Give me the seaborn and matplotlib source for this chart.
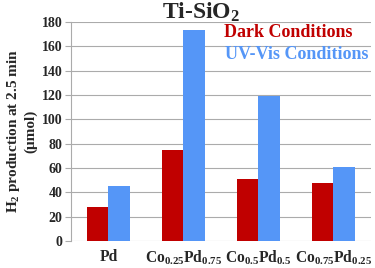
import pandas as pd
import seaborn as sns
import matplotlib.pyplot as plt

catalysts = ["Pd", "$Co_{0.25}Pd_{0.75}$", "$Co_{0.5}Pd_{0.5}$", "$Co_{0.75}Pd_{0.25}$"]
dark = [28, 75, 51, 47.5]
uvvis = [45.5, 173, 119, 61]
conditions = ["Dark Conditions", "UV-Vis Conditions"]
colors = ["#C00000", "#5596F7"]
yticks = list(range(0, 181, 20))

df = pd.DataFrame({
    "catalyst": catalysts * 2,
    "h2": dark + uvvis,
    "condition": [conditions[0]] * 4 + [conditions[1]] * 4,
})

sns.set_style("white")
plt.rcParams["font.family"] = ["Liberation Serif", "DejaVu Serif"]
plt.rcParams["font.weight"] = "bold"
plt.rcParams["mathtext.fontset"] = "custom"
plt.rcParams["mathtext.rm"] = "Liberation Serif:bold"
plt.rcParams["mathtext.it"] = "Liberation Serif:bold"
plt.rcParams["mathtext.bf"] = "Liberation Serif:bold"
plt.rcParams["mathtext.default"] = "rm"

fig = plt.figure(figsize=(3.75, 2.68), dpi=100)
ax = fig.add_axes([0.189, 0.101, 0.800, 0.817])
sns.barplot(data=df, x="catalyst", y="h2", hue="condition", palette=colors,
            width=0.58, gap=0, saturation=1, ax=ax, legend=False, zorder=3,
            edgecolor="none", linewidth=0)

ax.set_ylim(0, 180)
ax.set_yticks(yticks)
ax.yaxis.grid(True, color="#ABABAB", linewidth=0.8, zorder=0)
ax.set_axisbelow(True)
for s in ["top", "right", "bottom"]:
    ax.spines[s].set_visible(False)
ax.spines["left"].set_color("#ABABAB")
ax.tick_params(axis="y", left=True, length=4, color="#ABABAB", labelsize=10, pad=2)
ax.tick_params(axis="x", bottom=False, labelsize=11.2, pad=2)
for lab in ax.get_yticklabels() + ax.get_xticklabels():
    lab.set_fontweight("bold")

ax.set_xlabel("")
ax.set_ylabel("H$_2$ production at 2.5 min\n(μmol)", fontsize=11, fontweight="bold", labelpad=3)
fig.text(201 / 375, 1 - 12 / 268, "Ti-SiO$_2$", ha="center", va="center",
         fontsize=17, fontweight="bold")

ax.text(1 - 18 / 300, 1 - 11 / 219, conditions[0], transform=ax.transAxes, ha="right", va="center",
        color=colors[0], fontsize=13, fontweight="bold")
ax.text(1 - 2 / 300, 1 - 33 / 219, conditions[1], transform=ax.transAxes, ha="right", va="center",
        color=colors[1], fontsize=13, fontweight="bold")

plt.savefig("out.png", dpi=100)
